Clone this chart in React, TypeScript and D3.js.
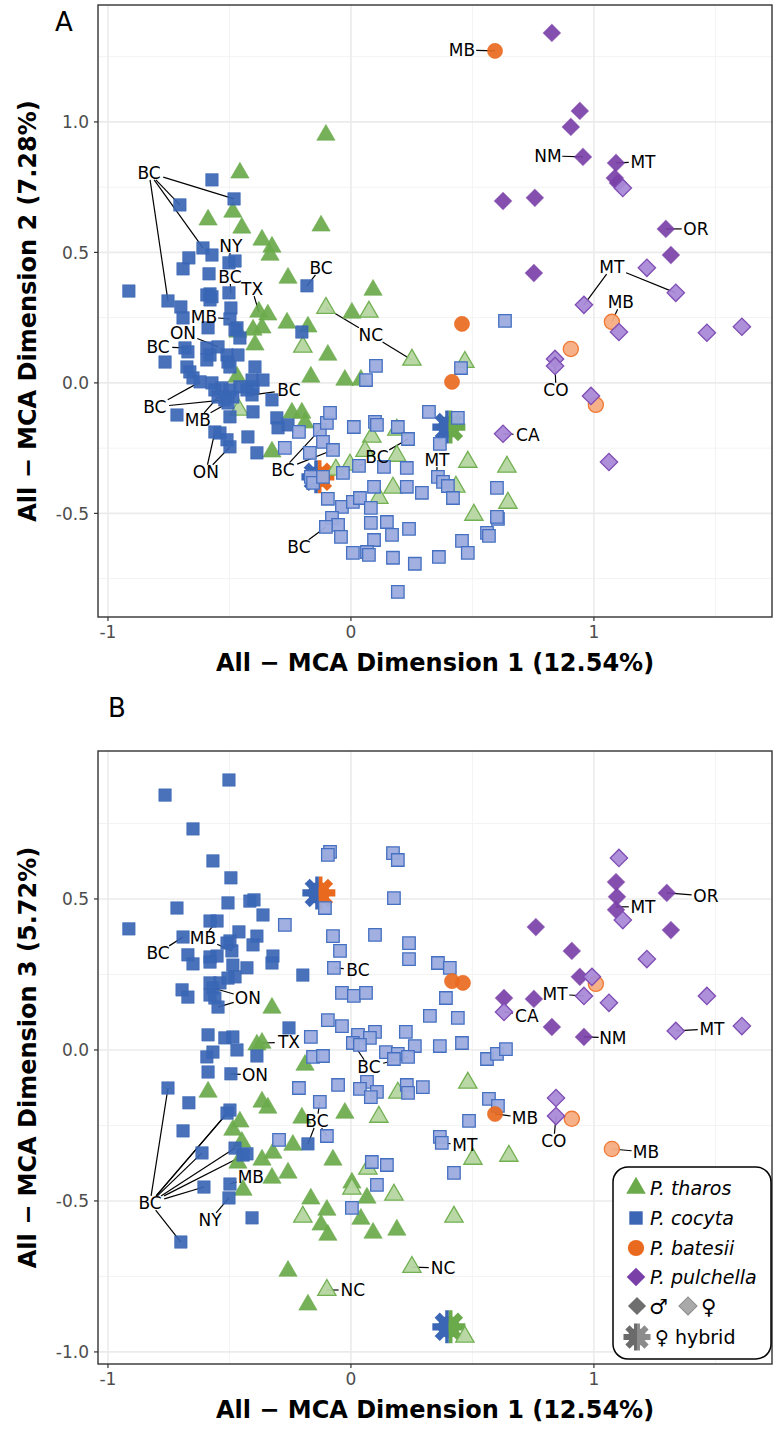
import React from 'react';
import * as d3 from 'd3';

type P = [number, number];
type Lab = [string, P, P[]];

// ---------- Panel A : Dimension 1 vs Dimension 2 ----------
const tharosMaleA: P[] = [[-0.457,0.805],[-0.103,0.950],[-0.486,0.655],[-0.588,0.625],[-0.449,0.594],[-0.123,0.602],[-0.366,0.548],[-0.325,0.521],[-0.333,0.490],[-0.259,0.402],[-0.379,0.272],[-0.342,0.261],[-0.263,0.230],[-0.177,0.215],[-0.366,0.211],[-0.465,0.195],[-0.403,0.203],[-0.395,0.146],[-0.095,0.107],[-0.165,0.023],[0.091,0.356],[0.004,0.268],[-0.025,0.011],[0.041,0.011],[-0.469,0.023],[-0.243,-0.115],[-0.202,-0.115],[-0.189,-0.153],[-0.325,-0.264]];
const tharosFemaleA: P[] = [[-0.103,0.287],[0.074,0.272],[-0.198,0.138],[0.251,0.088],[0.469,0.080],[-0.461,-0.103],[0.086,-0.207],[0.189,-0.180],[0.058,-0.261],[0.189,-0.280],[-0.004,-0.314],[-0.062,-0.333],[0.481,-0.303],[0.642,-0.322],[0.432,-0.398],[0.173,-0.402],[0.115,-0.441],[0.506,-0.506],[0.646,-0.460]];
const cocytaMaleA: P[] = [[-0.572,0.778],[-0.704,0.682],[-0.481,0.705],[-0.609,0.517],[-0.572,0.490],[-0.667,0.479],[-0.691,0.437],[-0.502,0.460],[-0.477,0.467],[-0.584,0.418],[-0.914,0.352],[-0.753,0.314],[-0.700,0.291],[-0.691,0.249],[-0.580,0.341],[-0.593,0.337],[-0.572,0.330],[-0.502,0.345],[-0.494,0.287],[-0.498,0.245],[-0.181,0.372],[-0.202,0.195],[-0.588,0.211],[-0.469,0.211],[-0.580,0.318],[-0.477,0.203],[-0.457,0.172],[-0.683,0.134],[-0.671,0.119],[-0.765,0.080],[-0.593,0.134],[-0.580,0.107],[-0.593,0.088],[-0.547,0.138],[-0.510,0.107],[-0.506,0.080],[-0.498,0.061],[-0.465,0.107],[-0.675,0.061],[-0.663,0.042],[-0.650,0.019],[-0.621,0.004],[-0.572,0.000],[-0.560,-0.027],[-0.531,-0.019],[-0.498,-0.027],[-0.486,-0.054],[-0.519,-0.065],[-0.506,-0.077],[-0.547,-0.054],[-0.457,-0.015],[-0.428,-0.027],[-0.407,-0.046],[-0.403,-0.015],[-0.395,0.061],[-0.407,0.011],[-0.362,0.011],[-0.325,-0.065],[-0.403,-0.111],[-0.716,-0.123],[-0.498,-0.130],[-0.560,-0.188],[-0.539,-0.192],[-0.510,-0.218],[-0.498,-0.245],[-0.424,-0.207],[-0.387,-0.268],[-0.305,-0.134],[-0.300,-0.172],[-0.259,-0.161]];
const cocytaFemaleA: P[] = [[-0.214,-0.188],[-0.272,-0.249],[-0.128,-0.180],[-0.099,-0.153],[-0.086,-0.115],[-0.115,-0.226],[-0.074,-0.257],[-0.169,-0.268],[0.103,0.065],[0.062,0.011],[0.634,0.238],[0.453,0.057],[0.012,-0.169],[0.099,-0.149],[0.107,-0.161],[0.193,-0.169],[0.235,-0.215],[0.321,-0.111],[0.440,-0.134],[0.366,-0.234],[0.033,-0.318],[0.136,-0.322],[0.230,-0.326],[-0.165,-0.360],[-0.156,-0.383],[-0.115,-0.360],[-0.033,-0.345],[0.358,-0.360],[0.379,-0.379],[0.399,-0.395],[0.420,-0.441],[0.095,-0.398],[0.230,-0.398],[0.292,-0.421],[-0.095,-0.444],[-0.037,-0.475],[0.008,-0.456],[0.037,-0.441],[0.082,-0.479],[0.082,-0.536],[-0.078,-0.517],[-0.053,-0.544],[-0.103,-0.552],[-0.041,-0.590],[0.148,-0.533],[0.169,-0.582],[0.239,-0.559],[0.095,-0.602],[0.008,-0.651],[0.066,-0.648],[0.074,-0.659],[0.173,-0.670],[0.263,-0.693],[0.362,-0.667],[0.457,-0.605],[0.481,-0.651],[0.560,-0.575],[0.568,-0.586],[0.605,-0.521],[0.601,-0.402],[0.601,-0.513],[0.193,-0.801]];
const batesiiMaleA: P[] = [[0.593,1.272],[0.457,0.226],[0.416,0.004]];
const batesiiFemaleA: P[] = [[1.074,0.234],[0.905,0.130],[1.008,-0.084]];
const pulchellaMaleA: P[] = [[0.827,1.341],[0.942,1.042],[0.905,0.981],[0.955,0.866],[1.091,0.843],[1.086,0.785],[1.099,0.766],[0.626,0.697],[0.757,0.709],[1.296,0.590],[1.317,0.490],[0.753,0.421]];
const pulchellaFemaleA: P[] = [[1.119,0.747],[1.218,0.441],[0.959,0.299],[1.337,0.345],[1.103,0.195],[1.465,0.192],[1.609,0.215],[0.840,0.092],[0.840,0.065],[0.988,-0.050],[0.626,-0.195],[1.062,-0.303]];
const hybridsA: [number, number, string][] = [[-0.136,-0.360,'batesii'],[0.403,-0.169,'tharos']];
const labelsA: Lab[] = [
  ['BC',[-0.831,0.805],[[-0.481,0.705],[-0.704,0.682],[-0.609,0.517],[-0.753,0.314]]],
  ['NY',[-0.494,0.525],[[-0.502,0.460]]],
  ['BC',[-0.498,0.406],[[-0.494,0.345]]],
  ['TX',[-0.407,0.360],[[-0.379,0.272]]],
  ['MB',[-0.605,0.253],[[-0.498,0.245]]],
  ['BC',[-0.123,0.441],[[-0.181,0.372]]],
  ['ON',[-0.691,0.192],[[-0.547,0.138]]],
  ['BC',[-0.794,0.138],[[-0.683,0.134]]],
  ['BC',[-0.807,-0.092],[[-0.621,0.004],[-0.519,-0.065]]],
  ['MB',[-0.630,-0.142],[[-0.547,-0.054],[-0.506,-0.077]]],
  ['BC',[-0.255,-0.027],[[-0.407,-0.046]]],
  ['ON',[-0.597,-0.341],[[-0.560,-0.188],[-0.498,-0.245]]],
  ['BC',[-0.280,-0.333],[[-0.128,-0.180],[-0.074,-0.257]]],
  ['NC',[0.082,0.184],[[-0.103,0.287],[0.251,0.088]]],
  ['BC',[0.107,-0.284],[[0.235,-0.215],[0.033,-0.318]]],
  ['MT',[0.354,-0.295],[[0.354,-0.39]]],
  ['BC',[-0.214,-0.628],[[-0.103,-0.552]]],
  ['CA',[0.728,-0.199],[[0.626,-0.195]]],
  ['MB',[0.457,1.276],[[0.593,1.272]]],
  ['NM',[0.811,0.870],[[0.955,0.866]]],
  ['MT',[1.202,0.847],[[1.091,0.843]]],
  ['OR',[1.420,0.590],[[1.296,0.590]]],
  ['MT',[1.074,0.444],[[0.959,0.299],[1.337,0.345]]],
  ['MB',[1.111,0.310],[[1.074,0.234]]],
  ['CO',[0.844,-0.027],[[0.840,0.065]]],
];

// ---------- Panel B : Dimension 1 vs Dimension 3 ----------
const tharosMaleB: P[] = [[-0.325,0.139],[-0.387,0.017],[-0.366,0.023],[-0.189,-0.050],[-0.588,-0.139],[-0.366,-0.172],[-0.342,-0.192],[-0.457,-0.238],[-0.486,-0.265],[-0.449,-0.305],[-0.202,-0.225],[-0.239,-0.315],[-0.074,-0.364],[-0.321,-0.341],[-0.366,-0.364],[-0.465,-0.374],[-0.444,-0.464],[-0.325,-0.424],[-0.259,-0.407],[-0.025,-0.209],[0.004,-0.440],[0.066,-0.490],[-0.165,-0.493],[-0.099,-0.530],[-0.123,-0.579],[-0.095,-0.613],[0.041,-0.560],[0.091,-0.606],[0.189,-0.596],[-0.259,-0.732],[-0.177,-0.844]];
const tharosFemaleB: P[] = [[0.193,-0.142],[0.481,-0.109],[0.115,-0.222],[0.070,-0.394],[0.004,-0.460],[0.177,-0.480],[-0.198,-0.553],[0.424,-0.553],[0.502,-0.361],[0.650,-0.351],[0.251,-0.719],[-0.099,-0.795],[0.469,-0.950]];
const cocytaMaleB: P[] = [[-0.502,0.894],[-0.765,0.844],[-0.650,0.732],[-0.568,0.626],[-0.494,0.570],[-0.716,0.470],[-0.506,0.487],[-0.416,0.493],[-0.399,0.497],[-0.362,0.447],[-0.914,0.401],[-0.580,0.427],[-0.551,0.427],[-0.691,0.374],[-0.461,0.391],[-0.387,0.377],[-0.403,0.348],[-0.498,0.361],[-0.510,0.354],[-0.490,0.328],[-0.671,0.315],[-0.650,0.285],[-0.580,0.308],[-0.551,0.311],[-0.321,0.311],[-0.325,0.288],[-0.486,0.281],[-0.428,0.272],[-0.198,0.248],[-0.580,0.291],[-0.477,0.242],[-0.695,0.199],[-0.671,0.175],[-0.580,0.222],[-0.568,0.205],[-0.580,0.182],[-0.560,0.172],[-0.547,0.142],[-0.539,0.222],[-0.506,0.238],[-0.255,0.073],[-0.588,0.050],[-0.519,0.040],[-0.486,0.043],[-0.469,0.000],[-0.387,-0.020],[-0.593,-0.023],[-0.568,-0.007],[-0.588,-0.073],[-0.494,-0.079],[-0.753,-0.126],[-0.667,-0.175],[-0.498,-0.199],[-0.510,-0.209],[-0.691,-0.268],[-0.177,-0.311],[-0.613,-0.341],[-0.477,-0.325],[-0.444,-0.348],[-0.428,-0.344],[-0.498,-0.444],[-0.605,-0.454],[-0.502,-0.490],[-0.407,-0.556],[-0.700,-0.636]];
const cocytaFemaleB: P[] = [[-0.086,0.656],[-0.095,0.646],[-0.107,0.470],[-0.272,0.414],[-0.074,0.377],[-0.045,0.328],[0.173,0.652],[0.193,0.629],[0.177,0.503],[0.099,0.381],[0.239,0.354],[0.239,0.301],[0.358,0.288],[0.407,0.272],[-0.070,0.272],[-0.037,0.189],[0.012,0.179],[0.062,0.189],[0.391,0.172],[0.325,0.113],[0.440,0.106],[-0.095,0.099],[-0.037,0.079],[-0.165,0.043],[0.029,0.050],[0.099,0.060],[0.078,0.040],[0.008,0.023],[0.037,0.017],[0.226,0.060],[0.263,0.013],[0.366,0.013],[0.457,0.023],[-0.156,-0.023],[-0.115,-0.020],[0.144,-0.007],[0.193,-0.013],[0.235,-0.023],[0.177,-0.030],[0.560,-0.030],[0.601,-0.013],[0.638,0.003],[-0.214,-0.126],[-0.053,-0.116],[0.066,-0.106],[0.037,-0.129],[0.107,-0.139],[0.082,-0.156],[0.230,-0.116],[0.235,-0.142],[0.296,-0.123],[0.568,-0.162],[0.605,-0.185],[0.486,-0.235],[-0.128,-0.172],[-0.099,-0.285],[-0.296,-0.298],[0.366,-0.288],[0.374,-0.308],[0.424,-0.407],[0.086,-0.371],[0.148,-0.381],[0.107,-0.447],[0.004,-0.523]];
const batesiiMaleB: P[] = [[0.416,0.228],[0.461,0.222],[0.593,-0.212]];
const batesiiFemaleB: P[] = [[1.008,0.219],[0.909,-0.228],[1.074,-0.328]];
const pulchellaMaleB: P[] = [[1.091,0.556],[1.095,0.507],[1.091,0.464],[1.300,0.520],[1.317,0.397],[0.761,0.407],[0.909,0.328],[0.942,0.242],[0.630,0.172],[0.753,0.169],[0.827,0.076],[0.959,0.043]];
const pulchellaFemaleB: P[] = [[1.103,0.636],[1.119,0.430],[1.218,0.301],[0.992,0.242],[0.959,0.179],[1.062,0.156],[0.630,0.126],[1.465,0.179],[1.337,0.063],[1.609,0.079],[0.844,-0.159],[0.844,-0.219]];
const hybridsB: [number, number, string][] = [[-0.132,0.520,'batesii'],[0.403,-0.917,'tharos']];
const labelsB: Lab[] = [
  ['BC',[-0.794,0.321],[[-0.691,0.374]]],
  ['MB',[-0.609,0.371],[[-0.551,0.427],[-0.490,0.328]]],
  ['ON',[-0.424,0.172],[[-0.568,0.205],[-0.547,0.142]]],
  ['TX',[-0.255,0.026],[[-0.366,0.023]]],
  ['ON',[-0.395,-0.083],[[-0.494,-0.079]]],
  ['BC',[-0.827,-0.507],[[-0.753,-0.126],[-0.498,-0.199],[-0.510,-0.209],[-0.613,-0.341],[-0.477,-0.325],[-0.428,-0.344],[-0.605,-0.454],[-0.700,-0.636]]],
  ['MB',[-0.412,-0.421],[[-0.498,-0.444]]],
  ['NY',[-0.580,-0.563],[[-0.502,-0.490]]],
  ['BC',[0.029,0.265],[[-0.070,0.272]]],
  ['BC',[0.074,-0.056],[[0.008,0.023],[0.235,-0.023]]],
  ['BC',[-0.140,-0.235],[[-0.128,-0.172],[-0.099,-0.285],[-0.177,-0.311]]],
  ['MB',[0.716,-0.225],[[0.593,-0.212]]],
  ['MT',[0.469,-0.315],[[0.374,-0.308]]],
  ['NC',[0.379,-0.722],[[0.251,-0.719]]],
  ['NC',[0.008,-0.795],[[-0.099,-0.795]]],
  ['CA',[0.724,0.113],[[0.630,0.126]]],
  ['MT',[1.202,0.474],[[1.091,0.474]]],
  ['OR',[1.461,0.510],[[1.300,0.520]]],
  ['MT',[0.840,0.185],[[0.959,0.179]]],
  ['NM',[1.078,0.040],[[0.959,0.043]]],
  ['MT',[1.486,0.070],[[1.337,0.063]]],
  ['CO',[0.835,-0.301],[[0.844,-0.219]]],
  ['MB',[1.214,-0.338],[[1.074,-0.328]]],
];

const xTicks = [-1, 0, 1];
const xMinor = [-0.5, 0.5, 1.5];
const yTicksA = [-0.5, 0, 0.5, 1.0];
const yMinorA = [-0.75, -0.25, 0.25, 0.75, 1.25];
const yTicksB = [-1.0, -0.5, 0, 0.5];
const yMinorB = [-0.75, -0.25, 0.25, 0.75];
const speciesNames = ['P. tharos', 'P. cocyta', 'P. batesii', 'P. pulchella'];
const speciesKeys = ['tharos', 'cocyta', 'batesii', 'pulchella'];

const COL: Record<string, { dark: string; light: string; edge: string }> = {
  tharos: { dark: '#6aaa4b', light: '#b5d6a1', edge: '#72b052' },
  cocyta: { dark: '#3a66b5', light: '#9cacde', edge: '#4570c1' },
  batesii: { dark: '#e96a1f', light: '#f7ad83', edge: '#ef7a35' },
  pulchella: { dark: '#7a40a7', light: '#a98ad7', edge: '#7f4db4' },
};

const FONT = '"DejaVu Sans", Verdana, sans-serif';

function symPath(sp: string, scale = 1): { d: string; rot: number } {
  if (sp === 'tharos') return { d: d3.symbol(d3.symbolTriangle, 145 * scale)()!, rot: 0 };
  if (sp === 'cocyta') return { d: d3.symbol(d3.symbolSquare, 156 * scale)()!, rot: 0 };
  if (sp === 'batesii') return { d: d3.symbol(d3.symbolCircle, 180 * scale)()!, rot: 0 };
  return { d: d3.symbol(d3.symbolSquare, 150 * scale)()!, rot: 45 };
}

function Marks({ pts, sp, female, x, y }: { pts: P[]; sp: string; female: boolean; x: any; y: any }) {
  const s = symPath(sp);
  const c = COL[sp];
  return (
    <g>
      {pts.map((p, i) => (
        <path
          key={i}
          d={s.d}
          transform={`translate(${x(p[0])},${y(p[1])}) rotate(${s.rot})`}
          fill={female ? c.light : c.dark}
          fillOpacity={female ? 0.95 : 0.92}
          stroke={female ? c.edge : c.dark}
          strokeOpacity={female ? 1 : 0.55}
          strokeWidth={female ? 1.3 : 1}
        />
      ))}
    </g>
  );
}

function GearShape({ r }: { r: number }) {
  const arms = [0, 45, 90, 135];
  return (
    <g>
      {arms.map((a) => {
        const t = (a * Math.PI) / 180;
        return (
          <line key={a} x1={-r * Math.cos(t)} y1={-r * Math.sin(t)} x2={r * Math.cos(t)} y2={r * Math.sin(t)} strokeWidth={r * 0.44} />
        );
      })}
      <circle r={r * 0.66} stroke="none" />
    </g>
  );
}

function Gear({ cx, cy, left, right, id, r = 16.5 }: { cx: number; cy: number; left: string; right: string; id: string; r?: number }) {
  return (
    <g transform={`translate(${cx},${cy})`}>
      <defs>
        <clipPath id={id + 'L'}><rect x={-r - 4} y={-r - 4} width={r + 4} height={2 * r + 8} /></clipPath>
        <clipPath id={id + 'R'}><rect x={0} y={-r - 4} width={r + 4} height={2 * r + 8} /></clipPath>
      </defs>
      <g clipPath={`url(#${id}L)`} fill={left} stroke={left}><GearShape r={r} /></g>
      <g clipPath={`url(#${id}R)`} fill={right} stroke={right}><GearShape r={r} /></g>
    </g>
  );
}

function buildLabels(labels: Lab[], x: any, y: any) {
  const fs = 17;
  const segs: JSX.Element[] = [];
  const texts: JSX.Element[] = [];
  labels.forEach((l, i) => {
    const cx = x(l[1][0]);
    const cy = y(l[1][1]);
    const hw = l[0].length * fs * 0.36 + 2;
    const hh = fs * 0.42;
    l[2].forEach((t, j) => {
      const tx = x(t[0]);
      const ty = y(t[1]);
      const dx = tx - cx;
      const dy = ty - cy;
      const k = Math.min(Math.abs(dx) > 1e-6 ? hw / Math.abs(dx) : 1e9, Math.abs(dy) > 1e-6 ? hh / Math.abs(dy) : 1e9);
      if (k >= 1) return;
      segs.push(<line key={`${i}-${j}`} x1={cx + dx * k} y1={cy + dy * k} x2={tx} y2={ty} stroke="#000" strokeWidth={1.2} />);
    });
    texts.push(
      <text key={i} x={cx} y={cy} dy="0.36em" textAnchor="middle" fontSize={fs} fontFamily={FONT} fill="#000">
        {l[0]}
      </text>
    );
  });
  return { segs, texts };
}

type PanelProps = {
  top: number; bottom: number; yDomain: [number, number]; yTicks: number[]; yMinor: number[];
  letter: string; letterX: number; letterY: number; yTitle: string;
  data: { sp: string; male: P[]; female: P[] }[];
  hybrids: [number, number, string][];
  labels: Lab[];
  idp: string;
  legend?: boolean;
};

const LEFT = 98, RIGHT = 772;

function Panel(p: PanelProps) {
  const x = d3.scaleLinear().domain([-1.041, 1.733]).range([LEFT, RIGHT]);
  const y = d3.scaleLinear().domain(p.yDomain).range([p.bottom, p.top]);
  const lab = buildLabels(p.labels, x, y);
  const grey = '#ebebeb';
  const minor = '#f3f3f3';
  return (
    <g>
      <rect x={LEFT} y={p.top} width={RIGHT - LEFT} height={p.bottom - p.top} fill="#fff" />
      {xMinor.map((v) => <line key={'xm' + v} x1={x(v)} x2={x(v)} y1={p.top} y2={p.bottom} stroke={minor} strokeWidth={1} />)}
      {p.yMinor.map((v) => <line key={'ym' + v} y1={y(v)} y2={y(v)} x1={LEFT} x2={RIGHT} stroke={minor} strokeWidth={1} />)}
      {xTicks.map((v) => <line key={'xg' + v} x1={x(v)} x2={x(v)} y1={p.top} y2={p.bottom} stroke={grey} strokeWidth={1.6} />)}
      {p.yTicks.map((v) => <line key={'yg' + v} y1={y(v)} y2={y(v)} x1={LEFT} x2={RIGHT} stroke={grey} strokeWidth={1.6} />)}
      {lab.segs}
      {p.hybrids.map((h, i) => (
        <Gear key={i} id={`${p.idp}h${i}`} cx={x(h[0])} cy={y(h[1])} left={COL.cocyta.dark} right={COL[h[2]].dark} />
      ))}
      {p.data.map((d) => (
        <g key={d.sp}>
          <Marks pts={d.male} sp={d.sp} female={false} x={x} y={y} />
          <Marks pts={d.female} sp={d.sp} female={true} x={x} y={y} />
        </g>
      ))}
      {lab.texts}
      <rect x={LEFT} y={p.top} width={RIGHT - LEFT} height={p.bottom - p.top} fill="none" stroke="#333" strokeWidth={1.4} />
      {xTicks.map((v) => (
        <g key={'xt' + v}>
          <line x1={x(v)} x2={x(v)} y1={p.bottom} y2={p.bottom + 4} stroke="#333" strokeWidth={1.2} />
          <text x={x(v)} y={p.bottom + 21} textAnchor="middle" fontSize={17} fontFamily={FONT} fill="#4d4d4d">{String(v)}</text>
        </g>
      ))}
      {p.yTicks.map((v) => (
        <g key={'yt' + v}>
          <line x1={LEFT - 4} x2={LEFT} y1={y(v)} y2={y(v)} stroke="#333" strokeWidth={1.2} />
          <text x={LEFT - 9} y={y(v)} dy="0.36em" textAnchor="end" fontSize={17} fontFamily={FONT} fill="#4d4d4d">{v.toFixed(1)}</text>
        </g>
      ))}
      <text x={(LEFT + RIGHT) / 2} y={p.bottom + 54} textAnchor="middle" fontSize={24} fontWeight="bold" fontFamily={FONT} fill="#000">
        All − MCA Dimension 1 (12.54%)
      </text>
      <text transform={`translate(27,${(p.top + p.bottom) / 2}) rotate(-90)`} dy="0.36em" textAnchor="middle" fontSize={24} fontWeight="bold" fontFamily={FONT} fill="#000">
        {p.yTitle}
      </text>
      <text x={p.letterX} y={p.letterY} fontSize={26} fontFamily={FONT} fill="#000">{p.letter}</text>
      {p.legend && <Legend />}
    </g>
  );
}

function Legend() {
  const rows = [1188, 1218, 1248, 1277];
  return (
    <g>
      <rect x={613} y={1167} width={158} height={192} rx={15} ry={15} fill="#fff" stroke="#000" strokeWidth={1.5} />
      {speciesKeys.map((k, i) => {
        const s = symPath(k, 1.15);
        return (
          <g key={k}>
            <path d={s.d} transform={`translate(${636},${rows[i]}) rotate(${s.rot})`} fill={COL[k].dark} />
            <text x={650} y={rows[i]} dy="0.36em" fontSize={19} fontStyle="italic" fontFamily={FONT} fill="#000">{speciesNames[i]}</text>
          </g>
        );
      })}
      <path d={symPath('pulchella', 1.1).d} transform="translate(637,1306) rotate(45)" fill="#6e6e6e" />
      <text x={649} y={1306} dy="0.36em" fontSize={21} fontFamily={FONT} fill="#000">♂</text>
      <path d={symPath('pulchella', 1.1).d} transform="translate(688,1306) rotate(45)" fill="#a9a9a9" stroke="#8a8a8a" strokeWidth={1} />
      <text x={701} y={1306} dy="0.36em" fontSize={21} fontFamily={FONT} fill="#000">♀</text>
      <Gear id="leg" cx={637} cy={1337} left="#6b6b6b" right="#8c8c8c" r={13.5} />
      <text x={655} y={1337} dy="0.36em" fontSize={19} fontFamily={FONT} fill="#000">♀ hybrid</text>
    </g>
  );
}

export default function App() {
  return (
    <svg width={780} height={1431} style={{ position: 'absolute', left: 0, top: 0, background: '#fff' }}>
      <rect width={780} height={1431} fill="#fff" />
      <Panel
        top={5} bottom={617} yDomain={[-0.897, 1.448]} yTicks={yTicksA} yMinor={yMinorA}
        letter="A" letterX={55} letterY={31} yTitle="All − MCA Dimension 2 (7.28%)" idp="a"
        data={[
          { sp: 'tharos', male: tharosMaleA, female: tharosFemaleA },
          { sp: 'cocyta', male: cocytaMaleA, female: cocytaFemaleA },
          { sp: 'batesii', male: batesiiMaleA, female: batesiiFemaleA },
          { sp: 'pulchella', male: pulchellaMaleA, female: pulchellaFemaleA },
        ]}
        hybrids={hybridsA} labels={labelsA}
      />
      <Panel
        top={751} bottom={1364} yDomain={[-1.040, 0.990]} yTicks={yTicksB} yMinor={yMinorB}
        letter="B" letterX={108} letterY={717} yTitle="All − MCA Dimension 3 (5.72%)" idp="b"
        data={[
          { sp: 'tharos', male: tharosMaleB, female: tharosFemaleB },
          { sp: 'cocyta', male: cocytaMaleB, female: cocytaFemaleB },
          { sp: 'batesii', male: batesiiMaleB, female: batesiiFemaleB },
          { sp: 'pulchella', male: pulchellaMaleB, female: pulchellaFemaleB },
        ]}
        hybrids={hybridsB} labels={labelsB} legend
      />
    </svg>
  );
}
